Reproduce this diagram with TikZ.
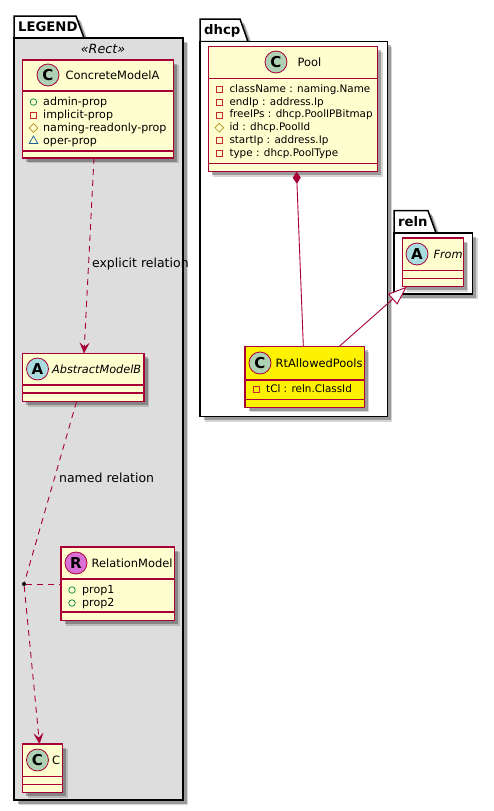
\documentclass[tikz,border=0pt]{standalone}
\usepackage{fontspec}
\setmainfont{DejaVu Sans}
\usetikzlibrary{arrows.meta,positioning,shapes.geometric,shadows}
\definecolor{umlborde}{HTML}{A80036}
\definecolor{umlcrema}{HTML}{FEFECE}
\definecolor{umlgris}{HTML}{DDDDDD}
\definecolor{umlverde}{HTML}{ADD1B2}
\definecolor{umlcian}{HTML}{A9DCDF}
\definecolor{umlorquidea}{HTML}{DA70D6}
\definecolor{vprivado}{HTML}{C82930}
\definecolor{vpublico}{HTML}{038048}
\definecolor{vprotegido}{HTML}{B38D22}
\definecolor{vpaquete}{HTML}{1963A0}
\tikzset{
  sombra/.style   = {general shadow={shadow xshift=5pt, shadow yshift=-5pt, fill=black, opacity=.16},
                     general shadow={shadow xshift=3.5pt, shadow yshift=-3.5pt, fill=black, opacity=.28}},
  paquete/.style  = {draw=black, line width=1.5pt, fill=white, anchor=north west,
                     inner sep=0pt, outer sep=0pt, sombra},
  pestana/.style  = {draw=black, line width=1.5pt, fill=white, sombra},
  titulo/.style   = {font=\fontsize{13.2}{15}\selectfont\bfseries, inner sep=0pt, anchor=west},
  clase/.style    = {draw=umlborde, line width=1.5pt, fill=umlcrema, anchor=north west,
                     inner sep=0pt, outer sep=0pt, sombra},
  linea/.style    = {draw=umlborde, line width=1.5pt},
  badge/.style    = {draw=umlborde, line width=.8pt, circle, minimum size=22pt, inner sep=0pt,
                     font=\fontsize{15}{15}\selectfont\bfseries},
  nombre/.style   = {font=\fontsize{11.45}{14}\selectfont, inner sep=0pt, right=#1},
  abstracto/.style= {font=\fontsize{11.3}{14}\selectfont\itshape, inner sep=0pt, right=#1},
  miembro/.style  = {font=\fontsize{11.1}{13}\selectfont, inner sep=0pt, anchor=west,
                     text height=8pt, text depth=2pt},
  miembrot/.style = {miembro, font=\fontsize{10.4}{13}\selectfont},
  vispriv/.style  = {draw=vprivado, line width=.7pt, minimum size=6pt, inner sep=0pt},
  vispub/.style   = {draw=vpublico, line width=.7pt, circle, minimum size=6.5pt, inner sep=0pt},
  visprot/.style  = {draw=vprotegido, line width=.7pt, diamond, aspect=1, minimum size=9pt, inner sep=0pt},
  vispaq/.style   = {draw=vpaquete, line width=.7pt, regular polygon, regular polygon sides=3,
                     minimum size=10pt, inner sep=0pt},
  flecha/.style   = {-{Stealth[length=11pt, width=10pt, inset=4.5pt]}, draw=umlborde, fill=none,
                     line width=.9pt, dash pattern=on 6pt off 5pt},
  enlace/.style   = {draw=umlborde, line width=.9pt, dash pattern=on 6pt off 5pt},
  solido/.style   = {draw=umlborde, line width=.9pt},
  lbl/.style      = {font=\fontsize{12.5}{14}\selectfont, inner sep=0pt},
}
\begin{document}
\begin{tikzpicture}[x=1pt, y=-1pt]
  \useasboundingbox (0,0) rectangle (493,811);

  \coordinate (legendtab) at (14,38);
  \draw[pestana] (legendtab) -- ++(0,-22) -- ++(62,0) -- ++(8,22) -- cycle;
  \node[paquete, fill=umlgris, minimum width=169pt, minimum height=762pt] (legend) at (legendtab) {};
  \node[titulo, above right=11pt and 4pt of legend.north west, anchor=west] (legendtxt) {LEGEND};
  \node[lbl, font=\fontsize{12.7}{14}\selectfont\itshape] (rect) at (103,49) {«Rect»};

  \coordinate (dhcptab) at (200,41.7);
  \draw[pestana] (dhcptab) -- ++(0,-22.7) -- ++(40,0) -- ++(8,22.7) -- cycle;
  \node[paquete, minimum width=187.3pt, minimum height=375pt] (dhcp) at (dhcptab) {};
  \node[titulo, above right=11pt and 4pt of dhcp.north west, anchor=west] (dhcptxt) {dhcp};

  \coordinate (relntab) at (394,233);
  \draw[pestana] (relntab) -- ++(0,-22.3) -- ++(34,0) -- ++(8,22.3) -- cycle;
  \node[paquete, minimum width=78.7pt, minimum height=61pt] (reln) at (relntab) {};
  \node[titulo, above right=11pt and 4pt of reln.north west, anchor=west] (relntxt) {reln};

  \node[clase, minimum width=151pt, minimum height=98pt] (concrete) at (22.5,60) {};
  \node[clase, minimum width=121.5pt, minimum height=48.2pt, below=195.5pt of concrete.south west, anchor=north west] (abstract) {};
  \node[clase, minimum width=113.5pt, minimum height=73.7pt] (relation) at (61,547) {};
  \node[clase, minimum width=40pt, minimum height=48.7pt] (cc) at (22.5,744) {};
  \node[clase, minimum width=169.4pt, minimum height=125pt] (pool) at (208.3,46.7) {};
  \node[clase, fill=yellow, minimum width=119.3pt, minimum height=60.6pt] (rt) at (245,346.7) {};
  \node[clase, minimum width=61pt, minimum height=48.7pt] (from) at (402.3,238) {};

  \foreach \cls/\ya/\yb in {concrete/31/91, abstract/31.5/39.5, relation/32/65, cc/32.7/40.3,
                            pool/31.6/116.6, rt/33.3/52.6, from/32.7/40.7} {
    \draw[linea] ([yshift=-\ya pt]\cls.north west) -- ([yshift=-\ya pt]\cls.north east);
    \draw[linea] ([yshift=-\yb pt]\cls.north west) -- ([yshift=-\yb pt]\cls.north east);
  }

  \node[badge, fill=umlverde] (bconcrete) at ([xshift=25.5pt,yshift=-15pt]concrete.north west) {C};
  \node[badge, fill=umlcian] (babstract) at ([xshift=15pt,yshift=-15.5pt]abstract.north west) {A};
  \node[badge, fill=umlorquidea] (brelation) at ([xshift=15pt,yshift=-16pt]relation.north west) {R};
  \node[badge, fill=umlverde] (bcc) at ([xshift=15pt,yshift=-16pt]cc.north west) {C};
  \node[badge, fill=umlverde] (bpool) at ([xshift=67.7pt,yshift=-15.3pt]pool.north west) {C};
  \node[badge, fill=umlverde] (brt) at ([xshift=15pt,yshift=-16.3pt]rt.north west) {C};
  \node[badge, fill=umlcian] (bfrom) at ([xshift=14.7pt,yshift=-16pt]from.north west) {A};

  \node[nombre=6pt of bconcrete] (nconcrete) {ConcreteModelA};
  \node[abstracto=3pt of babstract] (nabstract) {AbstractModelB};
  \node[nombre=4pt of brelation] (nrelation) {RelationModel};
  \node[nombre=3pt of bcc] (ncc) {C};
  \node[nombre=10pt of bpool] (npool) {Pool};
  \node[nombre=4pt of brt] (nrt) {RtAllowedPools};
  \node[abstracto=5pt of bfrom] (nfrom) {From};

  \foreach \vis/\txt [count=\i] in {vispub/admin-prop, vispriv/implicit-prop,
                                    visprot/naming-readonly-prop, vispaq/oper-prop} {
    \node[\vis] (vconcrete\i) at ([xshift=11pt,yshift={-(42+13*(\i-1))*1pt}]concrete.north west) {};
    \node[miembro] (mconcrete\i) at ([xshift=20.5pt,yshift={-(42+13*(\i-1))*1pt}]concrete.north west) {\txt};
  }
  \foreach \vis/\txt [count=\i] in {vispub/prop1, vispub/prop2} {
    \node[\vis] (vrelation\i) at ([xshift=11pt,yshift={-(43+13*(\i-1))*1pt}]relation.north west) {};
    \node[miembro] (mrelation\i) at ([xshift=21pt,yshift={-(43+13*(\i-1))*1pt}]relation.north west) {\txt};
  }
  \foreach \vis/\txt [count=\i] in {vispriv/className : naming.Name, vispriv/endIp : address.Ip,
                                    vispriv/freeIPs : dhcp.PoolIPBitmap, visprot/id : dhcp.PoolId,
                                    vispriv/startIp : address.Ip, vispriv/type : dhcp.PoolType} {
    \node[\vis] (vpool\i) at ([xshift=11pt,yshift={-(42.6+12.8*(\i-1))*1pt}]pool.north west) {};
    \node[miembrot] (mpool\i) at ([xshift=21pt,yshift={-(42.6+12.8*(\i-1))*1pt}]pool.north west) {\txt};
  }
  \node[vispriv] (vrt) at ([xshift=11pt,yshift=-43pt]rt.north west) {};
  \node[miembrot] (mrt) at ([xshift=21pt,yshift=-43pt]rt.north west) {tCl : reln.ClassId};

  \node[circle, fill=black, minimum size=4pt, inner sep=0pt] (punto) at (24,584) {};

  \draw[flecha] ([xshift=-4pt]concrete.south) -- node[lbl, pos=.54, right=3pt] (lexplicit) {explicit relation} ([xshift=.75pt]abstract.north);
  \draw[enlace] ([xshift=-6.75pt]abstract.south) -- node[lbl, pos=.42, right=4pt] (lnamed) {named relation} (punto);
  \draw[flecha] (punto) -- ([xshift=-3pt]cc.north);
  \draw[enlace] (punto) -- (relation.west |- punto);
  \draw[solido, {Diamond[length=12pt, width=8pt]}-] ([xshift=3.5pt]pool.south) -- ([xshift=-1.3pt]rt.north);
  \draw[solido, -{Triangle[open, fill=white, length=19pt, width=14pt]}] ([xshift=34.3pt]rt.north) -- ([xshift=-26pt]from.south);
\end{tikzpicture}
\end{document}
